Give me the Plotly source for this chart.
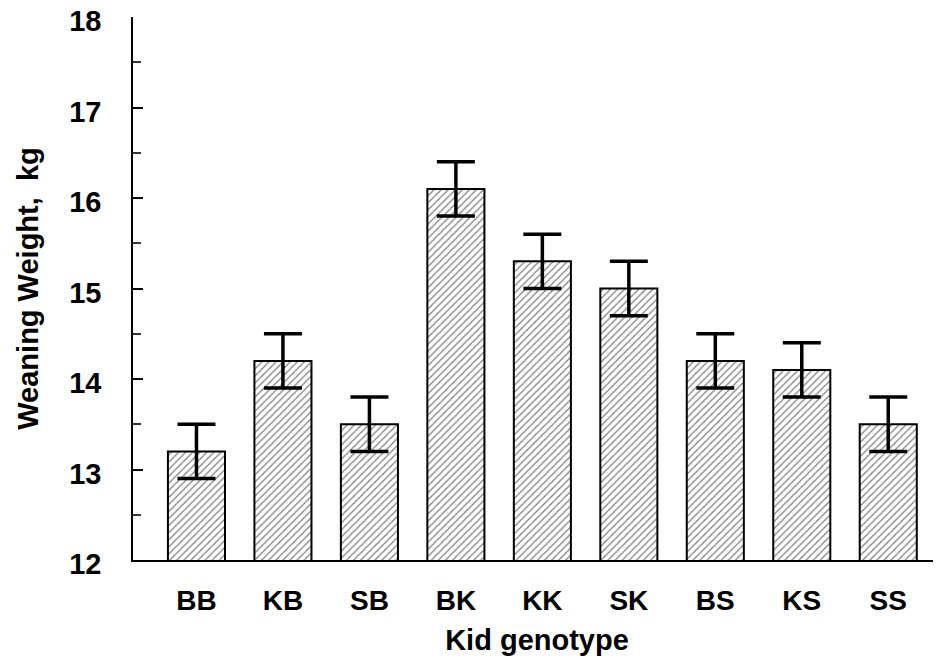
import plotly.graph_objects as go

genotypes = ["BB", "KB", "SB", "BK", "KK", "SK", "BS", "KS", "SS"]
weights = [13.2, 14.2, 13.5, 16.1, 15.3, 15.0, 14.2, 14.1, 13.5]
errors = [0.3, 0.3, 0.3, 0.3, 0.3, 0.3, 0.3, 0.3, 0.3]
y_ticks = [12, 13, 14, 15, 16, 17, 18]

FONT = "Liberation Sans"

fig = go.Figure()
fig.add_trace(go.Bar(
    x=genotypes, y=weights,
    marker=dict(
        color="white",
        line=dict(color="black", width=2),
        pattern=dict(shape="/", fgcolor="black", bgcolor="white", size=5, solidity=0.25),
    ),
    error_y=dict(type="data", array=errors, visible=True, color="black", thickness=3.5, width=19),
    width=0.66,
))

fig.update_layout(
    width=933, height=648,
    margin=dict(l=125, r=0, t=9, b=96, autoexpand=False),
    plot_bgcolor="white", paper_bgcolor="white",
    showlegend=False,
    font=dict(family=FONT, size=28, color="black"),
)
fig.update_xaxes(
    range=[-0.734, 8.61],
    automargin=False,
    showline=True, linecolor="black", linewidth=1.5,
    ticks="", showgrid=False,
    tickfont=dict(family=FONT, size=28, color="black", weight="bold"),
    ticklabelstandoff=15,
    ticklabeloverflow="allow",
    title=dict(text="<b>Kid genotype</b>", font=dict(family=FONT, size=29), standoff=18),
)
fig.update_yaxes(
    range=[12, 18],
    automargin=False,
    tickvals=y_ticks,
    showline=True, linecolor="black", linewidth=1.5,
    ticks="inside", ticklen=10, tickwidth=1.5, tickcolor="black",
    minor=dict(dtick=0.5, ticks="inside", ticklen=8, tickwidth=1.5, tickcolor="#333333"),
    showgrid=False, zeroline=False,
    tickfont=dict(family=FONT, size=29, color="black", weight="bold"),
    ticklabelstandoff=24,
    ticklabelshift=4,
    ticklabeloverflow="allow",
    title=dict(text="<b>Weaning Weight,  kg</b>", font=dict(family=FONT, size=29), standoff=22),
)

fig.write_html("out.html")
